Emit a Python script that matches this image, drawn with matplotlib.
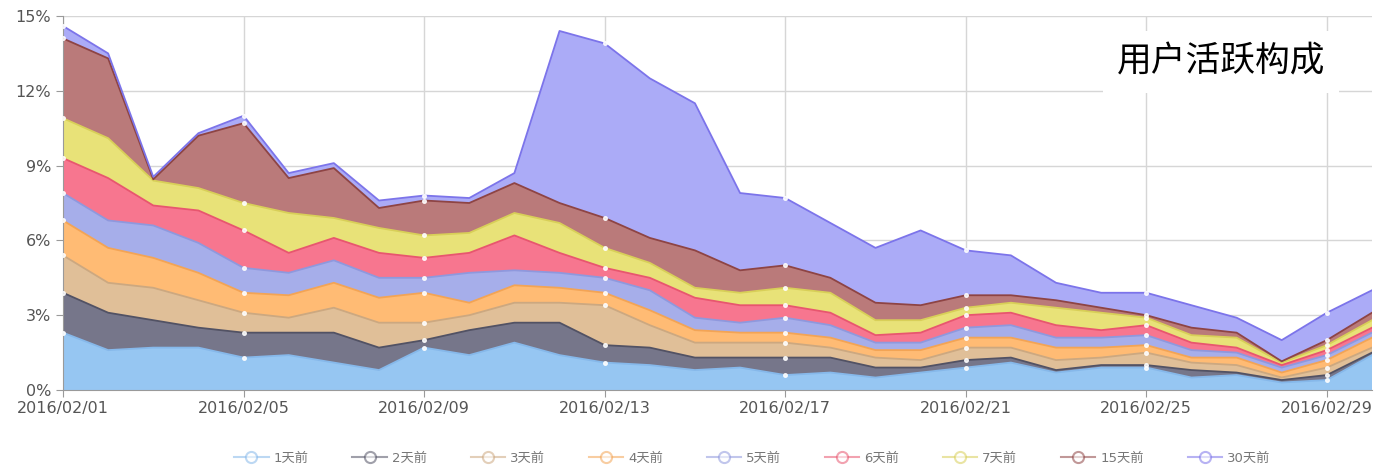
import numpy as np
import matplotlib
matplotlib.use("Agg")
import matplotlib.pyplot as plt
from matplotlib.lines import Line2D

plt.rcParams['font.family'] = ['DejaVu Sans', 'Noto Sans CJK SC']

dates = ["2016/02/%02d" % d for d in range(1, 30)] + ["2016/03/01"]

series_names = ["1天前", "2天前", "3天前", "4天前", "5天前", "6天前", "7天前", "15天前", "30天前"]

d1 = [2.3, 1.6, 1.7, 1.7, 1.3, 1.4, 1.1, 0.8, 1.7, 1.4, 1.9, 1.4, 1.1, 1.0, 0.8,
      0.9, 0.6, 0.7, 0.5, 0.7, 0.9, 1.1, 0.7, 0.9, 0.9, 0.5, 0.6, 0.3, 0.4, 1.4]
d2 = [1.6, 1.5, 1.1, 0.8, 1.0, 0.9, 1.2, 0.9, 0.3, 1.0, 0.8, 1.3, 0.7, 0.7, 0.5,
      0.4, 0.7, 0.6, 0.4, 0.2, 0.3, 0.2, 0.1, 0.1, 0.1, 0.3, 0.1, 0.1, 0.2, 0.1]
d3 = [1.5, 1.2, 1.3, 1.1, 0.8, 0.6, 1.0, 1.0, 0.7, 0.6, 0.8, 0.8, 1.6, 0.9, 0.6,
      0.6, 0.6, 0.4, 0.4, 0.3, 0.5, 0.4, 0.4, 0.3, 0.5, 0.3, 0.3, 0.1, 0.3, 0.2]
d4 = [1.4, 1.4, 1.2, 1.1, 0.8, 0.9, 1.0, 1.0, 1.2, 0.5, 0.7, 0.6, 0.5, 0.6, 0.5,
      0.4, 0.4, 0.4, 0.3, 0.4, 0.4, 0.4, 0.5, 0.4, 0.3, 0.2, 0.3, 0.2, 0.3, 0.4]
d5 = [1.1, 1.1, 1.3, 1.2, 1.0, 0.9, 0.9, 0.8, 0.6, 1.2, 0.6, 0.6, 0.6, 0.8, 0.5,
      0.4, 0.6, 0.5, 0.3, 0.3, 0.4, 0.5, 0.4, 0.4, 0.4, 0.3, 0.2, 0.2, 0.2, 0.2]
d6 = [1.4, 1.7, 0.8, 1.3, 1.5, 0.8, 0.9, 1.0, 0.8, 0.8, 1.4, 0.8, 0.4, 0.5, 0.8,
      0.7, 0.5, 0.5, 0.3, 0.4, 0.5, 0.5, 0.5, 0.3, 0.4, 0.3, 0.2, 0.1, 0.2, 0.2]
d7 = [1.6, 1.6, 1.0, 0.9, 1.1, 1.6, 0.8, 1.0, 0.9, 0.8, 0.9, 1.2, 0.8, 0.6, 0.4,
      0.5, 0.7, 0.8, 0.6, 0.5, 0.3, 0.4, 0.7, 0.7, 0.3, 0.3, 0.4, 0.1, 0.2, 0.3]
d15 = [3.2, 3.2, 0.05, 2.1, 3.2, 1.4, 2.0, 0.8, 1.4, 1.2, 1.2, 0.8, 1.2, 1.0, 1.5,
       0.9, 0.9, 0.6, 0.7, 0.6, 0.5, 0.3, 0.3, 0.2, 0.1, 0.3, 0.2, 0.05, 0.2, 0.3]
d30 = [0.5, 0.2, 0.1, 0.1, 0.3, 0.2, 0.2, 0.3, 0.2, 0.2, 0.4, 6.9, 7.0, 6.4, 5.9,
       3.1, 2.7, 2.2, 2.2, 3.0, 1.8, 1.6, 0.7, 0.6, 0.9, 0.9, 0.6, 0.85, 1.1, 0.9]

yticks = [0, 3, 6, 9, 12, 15]
ytick_labels = ["0%", "3%", "6%", "9%", "12%", "15%"]
title = "用户活跃构成"

fill_colors = ["#96c6f2", "#76768a", "#e0bf98", "#ffbb74", "#a6aeea",
               "#f7768f", "#e8e278", "#ba7a7a", "#ababf7"]
line_colors = ["#86b8ea", "#525264", "#cca880", "#f3a455", "#8f98dd",
               "#e8566f", "#d8cf58", "#8e4444", "#7c74ea"]

data = np.vstack([d1, d2, d3, d4, d5, d6, d7, d15, d30])
x = np.arange(len(dates))

fig = plt.figure(figsize=(13.78, 4.70), dpi=100)
ax = fig.add_axes([63 / 1378, 1 - 390 / 470, (1372 - 63) / 1378, (390 - 16) / 470])

ax.stackplot(x, data, colors=fill_colors, linewidth=0, zorder=2)
cum = np.cumsum(data, axis=0)
tick_idx = list(range(0, len(dates), 4))
for i in range(len(series_names)):
    ax.plot(x, cum[i], color=line_colors[i], lw=1.3, zorder=3)
    ax.plot(x[tick_idx], cum[i][tick_idx], ls='none', marker='o', ms=2.6,
            mfc='white', mec='white', zorder=4, alpha=0.85)

ax.set_xlim(0, len(dates) - 1)
ax.set_ylim(0, 15)
ax.set_yticks(yticks)
ax.set_yticklabels(ytick_labels)
ax.set_xticks(tick_idx)
ax.set_xticklabels([dates[i] for i in tick_idx])
ax.grid(True, color="#d6d6d6", lw=1, zorder=0)
ax.set_axisbelow(True)
for s in ["top", "right"]:
    ax.spines[s].set_visible(False)
for s in ["left", "bottom"]:
    ax.spines[s].set_color("#9a9a9a")
ax.tick_params(axis='both', colors="#9a9a9a", labelcolor="#555555",
               labelsize=11.5, length=5)
ax.tick_params(axis='x', pad=3)

ax.text(1325 / 1378, 1 - 62 / 470, title, transform=fig.transFigure,
        ha='right', va='center', fontsize=25, color='black',
        family=['Noto Sans CJK SC', 'DejaVu Sans'],
        bbox=dict(facecolor='white', edgecolor='none', pad=10), zorder=10)

handles = [Line2D([0], [0], color=c, lw=1.5, marker='o', ms=8, mfc='white',
                  mec=c, mew=1.5, alpha=0.55) for c in line_colors]
fig.legend(handles, series_names, loc='center', bbox_to_anchor=(0.546, 1 - 458 / 470),
           ncol=9, frameon=False, fontsize=9.5, handlelength=2.6, columnspacing=3.3,
           handletextpad=0.4, labelcolor="#777777")

fig.savefig("out.png", dpi=100)
